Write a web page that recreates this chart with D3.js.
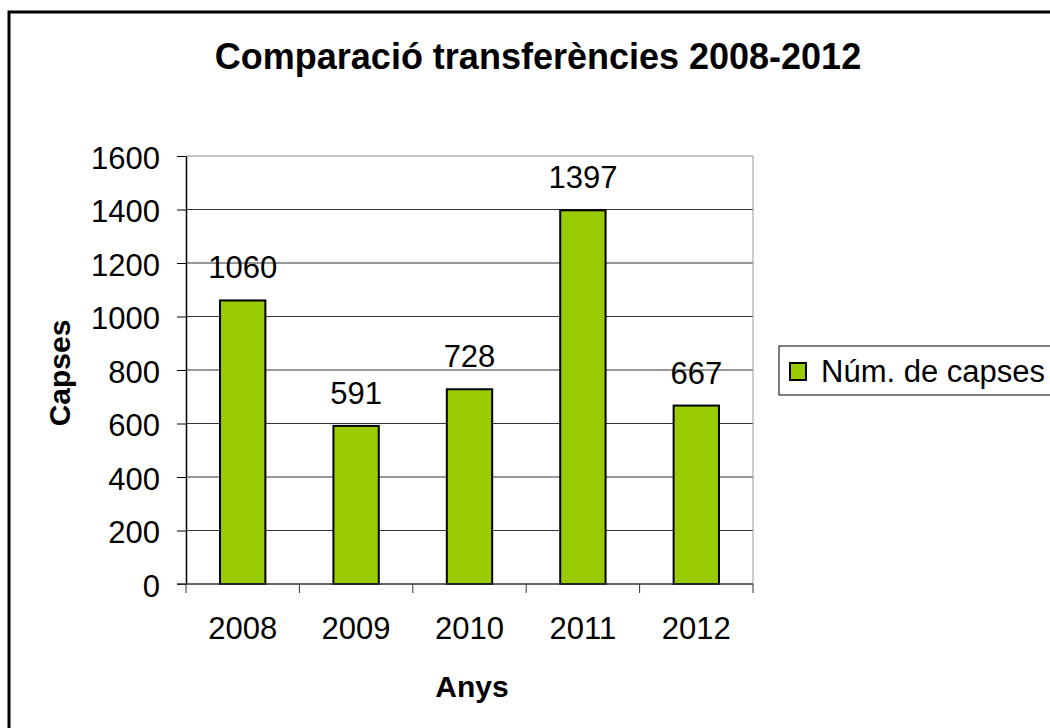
<!DOCTYPE html>
<html>
<head>
<meta charset="utf-8">
<script src="https://cdn.jsdelivr.net/npm/d3@7"></script>
<style>
  body { margin: 0; background: #fff; }
  text { font-family: "Liberation Sans", Arial, sans-serif; }
</style>
</head>
<body>
<div id="chart"></div>
<script>
// data
const years = ['2008', '2009', '2010', '2011', '2012'];
const capses = [1060, 591, 728, 1397, 667];
const yTicks = [0, 200, 400, 600, 800, 1000, 1200, 1400, 1600];
const seriesName = 'Núm. de capses';

const W = 1050, H = 728;
const plot = {left: 186, right: 753, top: 156, bottom: 584};
const FS = 31;

const svg = d3.select('#chart').append('svg')
    .attr('width', W)
    .attr('height', H);

// outer frame (right/bottom run off the canvas)
svg.append('rect')
    .attr('x', 9).attr('y', 12)
    .attr('width', W + 20).attr('height', H + 20)
    .attr('fill', 'none')
    .attr('stroke', '#000')
    .attr('stroke-width', 3);

// scales
const xScale = d3.scaleBand()
    .domain(years)
    .range([plot.left, plot.right])
    .paddingInner(0.6)
    .paddingOuter(0.3);
const xBand = d3.scaleBand().domain(years).range([plot.left, plot.right]);
const yScale = d3.scaleLinear()
    .domain([0, 1600])
    .range([plot.bottom, plot.top]);

// gridlines
svg.append('g').selectAll('line')
    .data(yTicks.filter(d => d > 0))
    .join('line')
    .attr('x1', plot.left).attr('x2', plot.right)
    .attr('y1', d => yScale(d)).attr('y2', d => yScale(d))
    .attr('stroke', d => d === 1600 ? '#888' : '#333')
    .attr('stroke-width', 1);

// right plot border
svg.append('line')
    .attr('x1', plot.right).attr('x2', plot.right)
    .attr('y1', plot.top).attr('y2', plot.bottom)
    .attr('stroke', '#999').attr('stroke-width', 1);

// bars
svg.append('g').selectAll('rect')
    .data(capses)
    .join('rect')
    .attr('x', (d, i) => xScale(years[i]))
    .attr('y', d => yScale(d))
    .attr('width', xScale.bandwidth())
    .attr('height', d => plot.bottom - yScale(d))
    .attr('fill', '#99cc00')
    .attr('stroke', '#000')
    .attr('stroke-width', 2);

// value labels
svg.append('g').selectAll('text')
    .data(capses)
    .join('text')
    .attr('x', (d, i) => xBand(years[i]) + xBand.bandwidth() / 2)
    .attr('y', d => yScale(d) - 22)
    .attr('text-anchor', 'middle')
    .attr('font-size', FS)
    .attr('fill', '#000')
    .text(d => d);

// axes
const yAxis = d3.axisLeft(yScale)
    .tickValues(yTicks)
    .tickFormat(d3.format('d'))
    .tickSize(9).tickSizeOuter(0).tickPadding(17);
const yAxisG = svg.append('g')
    .attr('transform', `translate(${plot.left},0)`)
    .call(yAxis);
yAxisG.select('.domain').attr('stroke', '#000').attr('stroke-width', 1.5);
yAxisG.selectAll('.tick line').attr('stroke', '#000');
yAxisG.selectAll('.tick text')
    .attr('font-size', FS).attr('fill', '#000')
    .attr('dy', '0.4em')
    .attr('font-family', '"Liberation Sans", Arial, sans-serif');

const xAxisG = svg.append('g')
    .attr('transform', `translate(0,${plot.bottom})`);
xAxisG.append('line')
    .attr('x1', plot.left - 9).attr('x2', plot.right)
    .attr('y1', 0).attr('y2', 0)
    .attr('stroke', '#333').attr('stroke-width', 1.5);
xAxisG.selectAll('.xtick')
    .data(d3.range(years.length + 1))
    .join('line')
    .attr('class', 'xtick')
    .attr('x1', i => plot.left + i * xBand.step())
    .attr('x2', i => plot.left + i * xBand.step())
    .attr('y1', 0).attr('y2', 9)
    .attr('stroke', '#333');
xAxisG.selectAll('.xlabel')
    .data(years)
    .join('text')
    .attr('class', 'xlabel')
    .attr('x', d => xBand(d) + xBand.bandwidth() / 2)
    .attr('y', 55)
    .attr('text-anchor', 'middle')
    .attr('font-size', FS)
    .attr('fill', '#000')
    .text(d => d);

// titles
svg.append('text')
    .attr('x', 538).attr('y', 69)
    .attr('text-anchor', 'middle')
    .attr('font-size', 36).attr('font-weight', 'bold')
    .text('Comparació transferències 2008-2012');
svg.append('text')
    .attr('x', 472).attr('y', 697)
    .attr('text-anchor', 'middle')
    .attr('font-size', 30).attr('font-weight', 'bold')
    .text('Anys');
svg.append('text')
    .attr('transform', 'translate(70,373) rotate(-90)')
    .attr('text-anchor', 'middle')
    .attr('font-size', 30).attr('font-weight', 'bold')
    .text('Capses');

// legend
const legend = svg.append('g').attr('transform', 'translate(779,346)');
legend.append('rect')
    .attr('x', 0).attr('y', 0)
    .attr('width', 300).attr('height', 49)
    .attr('fill', '#fff').attr('stroke', '#000').attr('stroke-width', 1);
legend.append('rect')
    .attr('x', 11).attr('y', 17)
    .attr('width', 16).attr('height', 17)
    .attr('fill', '#99cc00').attr('stroke', '#000').attr('stroke-width', 2);
legend.append('text')
    .attr('x', 42).attr('y', 36)
    .attr('font-size', FS)
    .text(seriesName);
</script>
</body>
</html>
